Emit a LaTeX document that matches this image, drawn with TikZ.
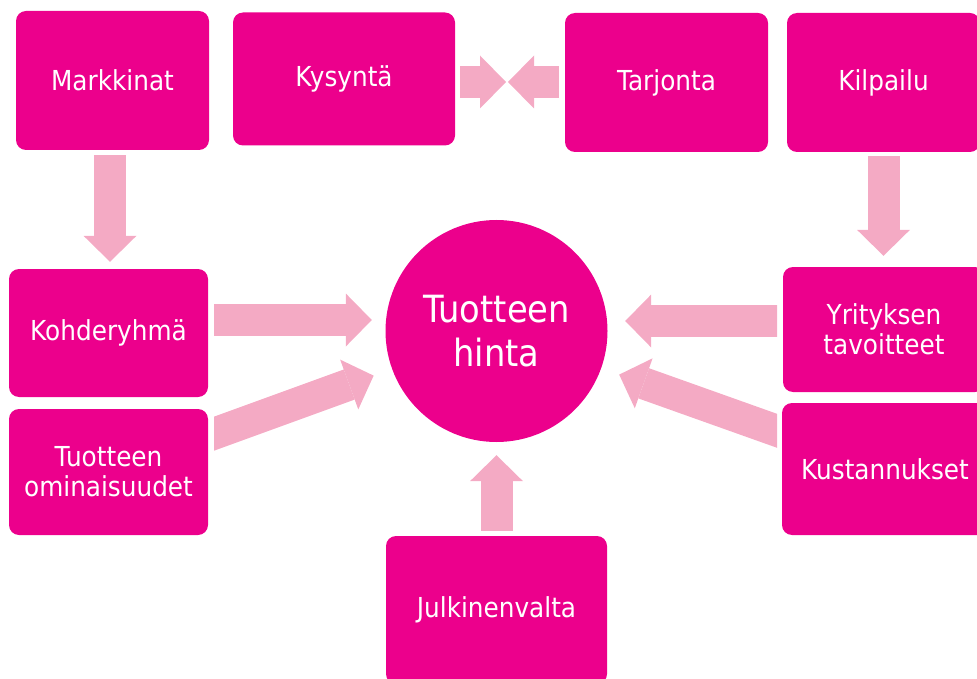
\documentclass[tikz,border=0pt]{standalone}
\usepackage{fontspec}
\setmainfont{DejaVu Sans}[FakeStretch=0.9]
\usetikzlibrary{arrows.meta, calc}
\definecolor{boxpink}{RGB}{236,0,140}
\definecolor{arrowpink}{RGB}{244,170,196}
\tikzset{
    laatikko/.style={fill=boxpink, rounded corners=10pt, text=white, align=center,
        font=\fontsize{27.5}{30}\selectfont, inner sep=0pt},
    pallo/.style={circle, fill=boxpink, text=white, align=center,
        font=\fontsize{37.5}{44}\selectfont, inner sep=0pt},
    nuoli/.style={draw=arrowpink, line width=32pt,
        -{Triangle[length=26pt, width=53pt, line width=0pt]}}
}

\begin{document}
\begin{tikzpicture}[x=1pt, y=-1pt]
    \useasboundingbox (0,0) rectangle (977,679);
    \clip (0,0) rectangle (977,679);

    % Ylarivi
    \node[laatikko, minimum width=193pt, minimum height=139pt] (markkinat) at (112.5,80.5) {Markkinat};
    \node[laatikko, minimum width=222pt, minimum height=133pt] (kysynta) at (344,79) {Kysyntä};
    \node[laatikko, minimum width=203pt, minimum height=139pt] (tarjonta) at (666.5,82.5) {Tarjonta};
    \node[laatikko, minimum width=193pt, minimum height=139pt] (kilpailu) at (883.5,82.5) {Kilpailu};

    % Vasen ja oikea reuna
    \node[laatikko, minimum width=199pt, minimum height=128pt] (kohde) at (108.5,333) {Kohderyhmä};
    \node[laatikko, minimum width=199pt, minimum height=126pt] (ominaisuudet) at (108.5,472) {Tuotteen\\ominaisuudet};
    \node[laatikko, minimum width=202pt, minimum height=125pt] (yritys) at (884,329.5) {Yrityksen\\tavoitteet};
    \node[laatikko, minimum width=206pt, minimum height=132pt] (kustannukset) at (885,469) {Kustannukset};

    % Keskus ja alarivi
    \node[pallo, minimum size=222pt] (hinta) at (496.5,331) {Tuotteen\\hinta};
    \node[laatikko, minimum width=221pt, minimum height=148pt] (julkinen) at (496.5,610) {Julkinenvalta};

    % Nuolet
    \coordinate (kohtaus) at (507,82);
    \draw[nuoli, shorten <=5pt, shorten >=1pt] (kysynta.east |- kohtaus) -- (kohtaus);
    \draw[nuoli, shorten <=6pt, shorten >=1pt] (tarjonta.west |- kohtaus) -- (kohtaus);
    \draw[nuoli, shorten <=5pt, shorten >=7pt] ([xshift=-2.5pt]markkinat.south) -- ([xshift=1.5pt]kohde.north);
    \draw[nuoli, shorten <=4pt, shorten >=11pt] (kilpailu.south) -- (kilpailu.south |- yritys.north);
    \draw[nuoli, shorten <=5pt, shorten >=13pt] (julkinen) -- (hinta);

    % sivunuolet pystysuoraan katkaistuina
    \begin{scope}
        \clip (214,0) rectangle (777,679);
        \draw[nuoli, shorten <=-4pt, shorten >=13.5pt] ([yshift=13pt]kohde.east) -- ([yshift=11pt]hinta.west);
        \draw[nuoli, shorten <=-4pt, shorten >=19.5pt] (ominaisuudet) -- (hinta);
        \draw[nuoli, shorten <=-4pt, shorten >=17.5pt] ([yshift=8.5pt]yritys.west) -- ([yshift=10pt]hinta.east);
        \draw[nuoli, shorten <=-4pt, shorten >=19pt] (kustannukset) -- (hinta);
    \end{scope}
\end{tikzpicture}
\end{document}
